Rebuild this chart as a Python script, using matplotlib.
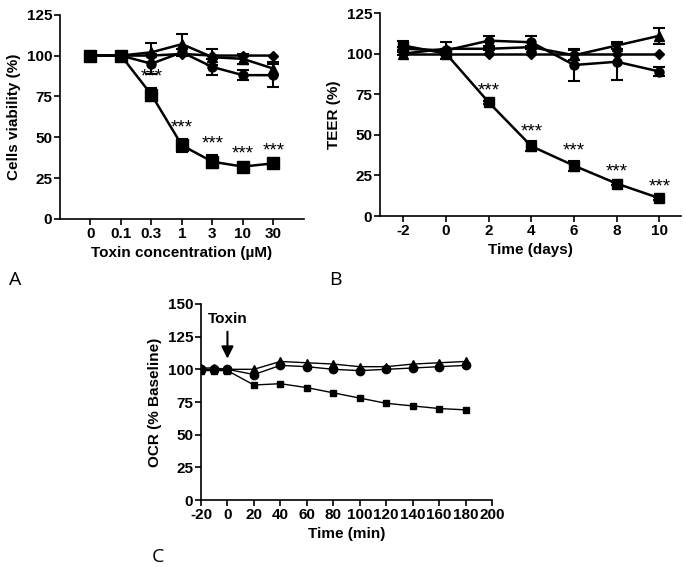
import numpy as np
import matplotlib.pyplot as plt

plt.rcParams['font.family'] = ['Liberation Sans', 'DejaVu Sans']
plt.rcParams['font.weight'] = 'bold'
plt.rcParams['axes.labelweight'] = 'bold'
plt.rcParams['axes.unicode_minus'] = False

# Panel A - viability vs toxin concentration
conc_labels = ['0', '0.1', '0.3', '1', '3', '10', '30']
a_square = [100, 100, 76, 45, 35, 32, 34]
a_square_err = [0, 0, 4, 4, 4, 1, 1]
a_triangle = [100, 100, 102, 107, 99, 98, 92]
a_triangle_err = [0, 0, 6, 6, 5, 3, 4]
a_circle = [100, 100, 95, 102, 93, 88, 88]
a_circle_err = [0, 0, 6, 2, 5, 3, 7]
a_diamond = [100, 100, 100, 101, 100, 100, 100]
a_stars = [False, False, True, True, True, True, True]

# Panel B - TEER vs time (days)
days = [-2, 0, 2, 4, 6, 8, 10]
b_square = [105, 100, 70, 43, 31, 20, 11]
b_square_err = [3, 3, 1, 3, 3, 1, 1]
b_triangle = [100, 103, 103, 104, 99, 105, 111]
b_triangle_err = [1, 4, 1, 1, 3, 2, 5]
b_circle = [103, 102, 108, 107, 93, 95, 89]
b_circle_err = [1, 1, 3, 4, 10, 11, 3]
b_diamond = [100, 100, 100, 100, 100, 100, 100]
b_stars = [False, False, True, True, True, True, True]

# Panel C - OCR vs time (min)
minutes = [-20, -10, 0, 20, 40, 60, 80, 100, 120, 140, 160, 180]
c_square = [99, 99, 99, 88, 89, 86, 82, 78, 74, 72, 70, 69]
c_triangle = [101, 101, 100, 100, 106, 105, 104, 102, 102, 104, 105, 106]
c_circle = [100, 100, 100, 96, 103, 102, 100, 99, 100, 101, 102, 103]

fig = plt.figure(figsize=(6.85, 5.67), dpi=100)


def style_axes(ax):
    ax.spines['top'].set_visible(False)
    ax.spines['right'].set_visible(False)
    ax.spines['left'].set_linewidth(1.2)
    ax.spines['bottom'].set_linewidth(1.2)
    ax.tick_params(width=1.2, length=4, pad=1.5, labelsize=11)
    for lab in ax.get_xticklabels() + ax.get_yticklabels():
        lab.set_fontweight('bold')


def series(ax, x, y, err, marker, ms, lw=1.8):
    ax.errorbar(x, y, yerr=err, color='black', marker=marker, ms=ms, lw=lw,
                elinewidth=1.5, capsize=4, capthick=1.5)


def add_stars(ax, x, y, err, flags, dy):
    for xi, yi, ei, s in zip(x, y, err, flags):
        if s:
            ax.annotate('***', (xi, yi + ei), xytext=(0, dy), textcoords='offset points',
                        ha='center', va='center', fontsize=13.5, fontweight='normal')


# ---- A ----
axA = fig.add_axes([0.0876, 0.614, 0.356, 0.36])
xA = np.arange(len(conc_labels))
series(axA, xA, a_diamond, None, 'D', 5)
series(axA, xA, a_circle, a_circle_err, 'o', 6.5)
series(axA, xA, a_triangle, a_triangle_err, '^', 6.5)
series(axA, xA, a_square, a_square_err, 's', 8)
add_stars(axA, xA, a_square, a_square_err, a_stars, 8)
axA.set_xlim(-1, 7)
axA.set_ylim(0, 125)
axA.set_xticks(xA)
axA.set_xticklabels(conc_labels)
axA.set_yticks([0, 25, 50, 75, 100, 125])
axA.set_ylabel('Cells viability (%)', fontsize=11)
axA.set_xlabel('Toxin concentration (µM)', fontsize=11)
style_axes(axA)

# ---- B ----
axB = fig.add_axes([0.5547, 0.619, 0.439, 0.358])
series(axB, days, b_diamond, None, 'D', 5)
series(axB, days, b_circle, b_circle_err, 'o', 6.5)
series(axB, days, b_triangle, b_triangle_err, '^', 6.5)
series(axB, days, b_square, b_square_err, 's', 7)
add_stars(axB, days, b_square, b_square_err, b_stars, 7)
axB.set_xlim(-3.1, 11)
axB.set_ylim(0, 125)
axB.set_xticks(days)
axB.set_yticks([0, 25, 50, 75, 100, 125])
axB.set_ylabel('TEER (%)', fontsize=11)
axB.set_xlabel('Time (days)', fontsize=11)
style_axes(axB)

# ---- C ----
axC = fig.add_axes([0.2934, 0.118, 0.425, 0.346])
axC.plot(minutes, c_circle, color='black', marker='o', ms=6, lw=1)
axC.plot(minutes, c_triangle, color='black', marker='^', ms=6, lw=1)
axC.plot(minutes, c_square, color='black', marker='s', ms=4.5, lw=1)
axC.annotate('Toxin', xy=(0, 106), xytext=(0, 133), ha='center', va='bottom',
             fontsize=11, fontweight='bold',
             arrowprops=dict(arrowstyle='-|>', color='black', lw=1.5,
                             mutation_scale=18))
axC.set_xlim(-20, 200)
axC.set_ylim(0, 150)
axC.set_xticks(np.arange(-20, 201, 20))
axC.set_yticks(np.arange(0, 151, 25))
axC.set_ylabel('OCR (% Baseline)', fontsize=11)
axC.set_xlabel('Time (min)', fontsize=11)
style_axes(axC)

# panel letters
for txt, x, y in [('A', 0.013, 0.497), ('B', 0.481, 0.497), ('C', 0.222, 0.009)]:
    fig.text(x, y, txt, fontsize=14, fontweight='normal', family='Open Sans')

fig.savefig('out.png', dpi=100)
